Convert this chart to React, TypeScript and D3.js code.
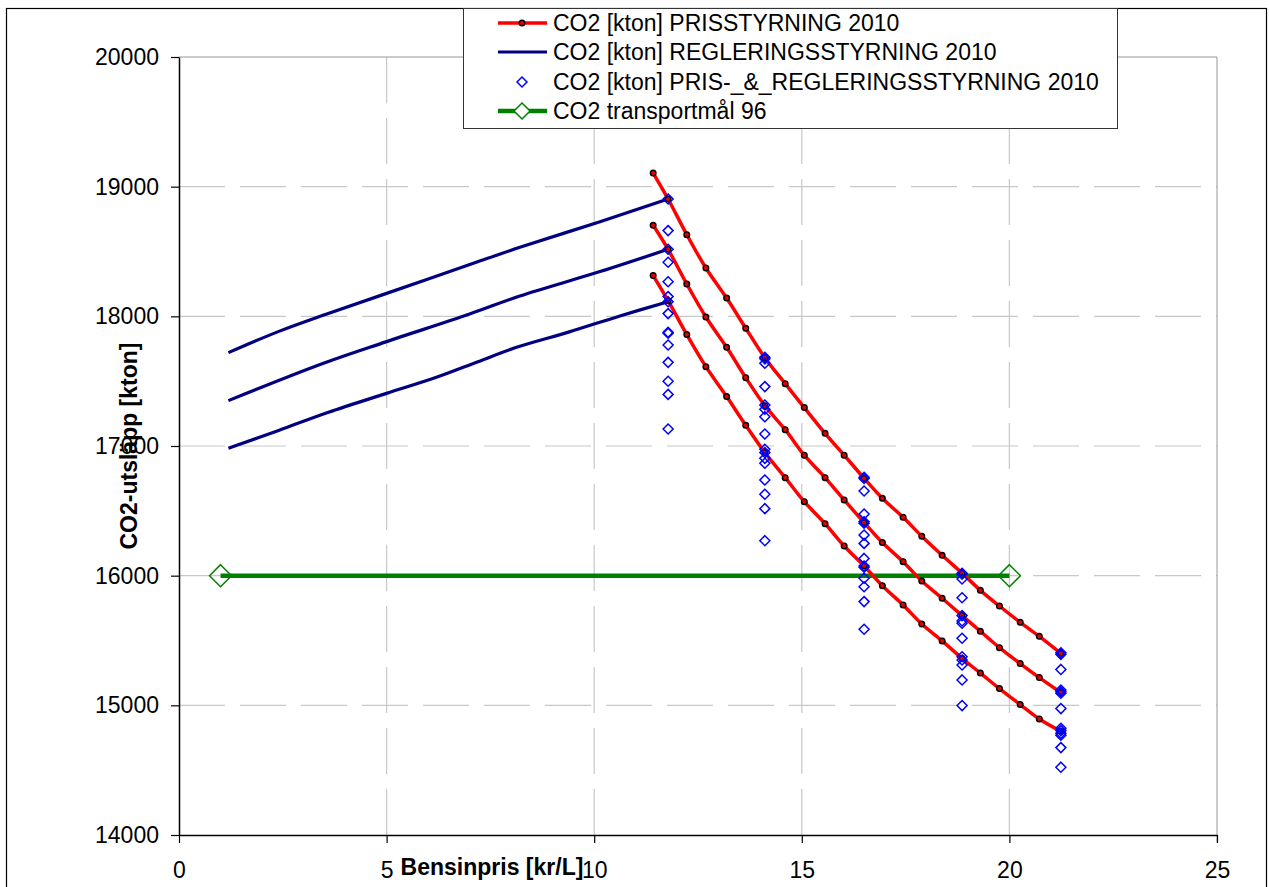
import * as d3 from 'd3'
import React, { useEffect, useRef } from 'react'

// values
const xTicks = [0, 5, 10, 15, 20, 25]
const yTicks = [14000, 15000, 16000, 17000, 18000, 19000, 20000]

// CO2 [kton] PRISSTYRNING 2010 (three curves)
const prisPrice = [11.42, 11.78, 12.23, 12.69, 13.19, 13.65, 14.11, 14.6, 15.06, 15.56, 16.02, 16.5, 16.94, 17.44, 17.89, 18.38, 18.86, 19.3, 19.76, 20.26, 20.72, 21.24]
const prisHigh = [19105, 18905, 18630, 18373, 18141, 17908, 17681, 17481, 17296, 17098, 16929, 16751, 16597, 16450, 16304, 16157, 16020, 15887, 15766, 15640, 15532, 15401]
const prisMid = [18702, 18517, 18249, 17995, 17761, 17527, 17311, 17126, 16929, 16756, 16584, 16410, 16255, 16108, 15959, 15826, 15692, 15571, 15445, 15322, 15214, 15099]
const prisLow = [18314, 18121, 17859, 17612, 17381, 17160, 16950, 16756, 16571, 16401, 16229, 16075, 15923, 15774, 15627, 15497, 15362, 15249, 15129, 15006, 14895, 14800]

// CO2 [kton] REGLERINGSSTYRNING 2010 (three curves)
const reglHighPrice = [1.19, 2.39, 3.56, 5.0, 7.09, 8.21, 10.14, 11.78]
const reglHigh = [17720, 17882, 18018, 18177, 18409, 18532, 18730, 18905]
const reglMidPrice = [1.19, 3.48, 5.0, 7.0, 8.21, 10.14, 11.78]
const reglMid = [17350, 17638, 17805, 18018, 18157, 18345, 18517]
const reglLowPrice = [1.19, 2.4, 3.6, 5.0, 6.2, 7.2, 8.13, 9.4, 10.62, 11.78]
const reglLow = [16982, 17120, 17260, 17406, 17530, 17650, 17761, 17880, 18003, 18113]

// CO2 [kton] PRIS-_&_REGLERINGSSTYRNING 2010 (scatter, one column per price)
const comboPrice = [11.78, 14.11, 16.5, 18.86, 21.24]
const comboValues = [
  [18905, 18661, 18517, 18417, 18267, 18152, 18113, 18021, 17877, 17870, 17779, 17645, 17499, 17398, 17131],
  [17684, 17672, 17638, 17458, 17316, 17283, 17226, 17093, 16975, 16949, 16905, 16867, 16738, 16628, 16517, 16270],
  [16759, 16750, 16653, 16475, 16416, 16405, 16313, 16249, 16133, 16075, 16065, 15980, 15915, 15800, 15587],
  [16018, 16012, 15974, 15830, 15692, 15651, 15633, 15517, 15375, 15350, 15311, 15196, 14998],
  [15406, 15393, 15277, 15118, 15105, 15093, 14975, 14823, 14805, 14784, 14769, 14674, 14523]
]

// CO2 transportmål 96
const targetPrice = [1, 20]
const target = [16000, 16000]

const legendLabels = [
  'CO2 [kton] PRISSTYRNING 2010',
  'CO2 [kton] REGLERINGSSTYRNING 2010',
  'CO2 [kton] PRIS-_&_REGLERINGSSTYRNING 2010',
  'CO2 transportmål 96'
]

const FONT = 'Liberation Sans, Arial, sans-serif'

function diamond (cx: number, cy: number, r: number) {
  return `M${cx},${cy - r}L${cx + r},${cy}L${cx},${cy + r}L${cx - r},${cy}Z`
}

function Chart () {
  const ref = useRef<SVGSVGElement>(null)

  useEffect(() => {
    const width = 1270; const height = 887
    const svg = d3.select(ref.current)
    svg.selectAll('*').remove()
    svg.attr('width', width).attr('height', height)

    const x = d3.scaleLinear().domain([0, 25]).range([179, 1217])
    const y = d3.scaleLinear().domain([14000, 20000]).range([835, 57])

    svg.append('rect').attr('width', width).attr('height', height).attr('fill', '#fff')
    svg.append('rect')
      .attr('x', 6.5).attr('y', 8.5).attr('width', 1260).attr('height', 900)
      .attr('fill', 'none').attr('stroke', '#000').attr('stroke-width', 1.2)

    // grid
    const grid = svg.append('g')
    grid.selectAll('line.v').data(xTicks.slice(1, -1)).enter().append('line')
      .attr('x1', d => x(d)).attr('x2', d => x(d))
      .attr('y1', y(20000)).attr('y2', y(14000))
      .attr('stroke', '#c8c8c8').attr('stroke-width', 1.2).attr('stroke-dasharray', '46,15')
    grid.selectAll('line.h').data(yTicks.slice(1, -1)).enter().append('line')
      .attr('y1', d => y(d)).attr('y2', d => y(d))
      .attr('x1', x(0)).attr('x2', x(25))
      .attr('stroke', '#c8c8c8').attr('stroke-width', 1.2).attr('stroke-dasharray', '46,15')
    grid.append('line').attr('x1', x(0)).attr('x2', x(25)).attr('y1', y(20000)).attr('y2', y(20000))
      .attr('stroke', '#999').attr('stroke-width', 1)
    grid.append('line').attr('x1', x(25)).attr('x2', x(25)).attr('y1', y(20000)).attr('y2', y(14000) + 8)
      .attr('stroke', '#999').attr('stroke-width', 1)

    // axes
    const yAxis = svg.append('g').attr('transform', `translate(${x(0)},0)`)
      .call(d3.axisLeft(y).tickValues(yTicks).tickSize(8).tickSizeOuter(0).tickPadding(12).tickFormat(d3.format('d')))
    const xAxis = svg.append('g').attr('transform', `translate(0,${y(14000)})`)
      .call(d3.axisBottom(x).tickValues(xTicks).tickSize(8).tickSizeOuter(0).tickPadding(19).tickFormat(d3.format('d')))
    ;[xAxis, yAxis].forEach(a => {
      a.selectAll('text').attr('font-family', FONT).attr('font-size', 23).attr('fill', '#000')
      a.selectAll('line').attr('stroke', '#000').attr('stroke-width', 1.2)
      a.select('.domain').attr('stroke', '#000').attr('stroke-width', 1.5)
    })

    svg.append('text')
      .attr('x', 492).attr('y', 875)
      .attr('text-anchor', 'middle').attr('font-family', FONT).attr('font-size', 23).attr('font-weight', 'bold')
      .text('Bensinpris [kr/L]')
    svg.append('text')
      .attr('transform', 'translate(137,446) rotate(-90)')
      .attr('text-anchor', 'middle').attr('font-family', FONT).attr('font-size', 23).attr('font-weight', 'bold')
      .text('CO2-utsläpp [kton]')

    const line = d3.line<[number, number]>()
      .x(d => x(d[0])).y(d => y(d[1]))
      .curve(d3.curveCatmullRom.alpha(0.5))

    // target line
    const targetPts = targetPrice.map((p, i) => [p, target[i]] as [number, number])
    svg.append('path').attr('d', line(targetPts))
      .attr('fill', 'none').attr('stroke', '#008000').attr('stroke-width', 4.5)
    svg.selectAll('path.tgt').data(targetPts).enter().append('path')
      .attr('d', d => diamond(x(d[0]), y(d[1]), 11))
      .attr('fill', 'none').attr('stroke', '#008000').attr('stroke-width', 1.5)

    // regulation lines
    const regl = [[reglHighPrice, reglHigh], [reglMidPrice, reglMid], [reglLowPrice, reglLow]]
    regl.forEach(([px, vals]) => {
      const pts = px.map((p, i) => [p, vals[i]] as [number, number])
      svg.append('path').attr('d', line(pts))
        .attr('fill', 'none').attr('stroke', '#000080').attr('stroke-width', 3.2)
    })

    // price lines
    const pris = [prisHigh, prisMid, prisLow]
    pris.forEach(vals => {
      const pts = prisPrice.map((p, i) => [p, vals[i]] as [number, number])
      svg.append('path').attr('d', line(pts))
        .attr('fill', 'none').attr('stroke', '#ff0000').attr('stroke-width', 3.5)
      svg.append('g').selectAll('circle').data(pts).enter().append('circle')
        .attr('cx', d => x(d[0])).attr('cy', d => y(d[1])).attr('r', 2.8)
        .attr('fill', '#e00000').attr('stroke', '#000').attr('stroke-width', 1.4)
    })

    // combined scatter
    const comboPts: [number, number][] = []
    comboPrice.forEach((p, i) => comboValues[i].forEach(v => comboPts.push([p, v])))
    svg.append('g').selectAll('path').data(comboPts).enter().append('path')
      .attr('d', d => diamond(x(d[0]), y(d[1]), 5))
      .attr('fill', 'none').attr('stroke', '#0000ff').attr('stroke-width', 1.5)

    // legend
    const lg = svg.append('g')
    lg.append('rect').attr('x', 463.5).attr('y', 8.5).attr('width', 654).attr('height', 120)
      .attr('fill', '#fff').attr('stroke', '#333').attr('stroke-width', 1)
    const rowY = [23, 52, 82, 111]
    legendLabels.forEach((label, i) => {
      const cy = rowY[i]
      if (i === 0) {
        lg.append('line').attr('x1', 498).attr('x2', 547).attr('y1', cy).attr('y2', cy)
          .attr('stroke', '#ff0000').attr('stroke-width', 3.5)
        lg.append('circle').attr('cx', 522).attr('cy', cy).attr('r', 2.8)
          .attr('fill', '#e00000').attr('stroke', '#000').attr('stroke-width', 1.4)
      } else if (i === 1) {
        lg.append('line').attr('x1', 498).attr('x2', 547).attr('y1', cy).attr('y2', cy)
          .attr('stroke', '#000080').attr('stroke-width', 3.2)
      } else if (i === 2) {
        lg.append('path').attr('d', diamond(522, cy, 5))
          .attr('fill', 'none').attr('stroke', '#0000ff').attr('stroke-width', 1.5)
      } else {
        lg.append('line').attr('x1', 498).attr('x2', 547).attr('y1', cy).attr('y2', cy)
          .attr('stroke', '#008000').attr('stroke-width', 4.5)
        lg.append('path').attr('d', diamond(522, cy, 8))
          .attr('fill', '#fff').attr('stroke', '#008000').attr('stroke-width', 1.5)
      }
      lg.append('text').attr('x', 553).attr('y', cy + 8)
        .attr('font-family', FONT).attr('font-size', 23).attr('fill', '#000')
        .text(label)
    })
  }, [])

  return <svg ref={ref} style={{ display: 'block' }} />
}

export default function App () {
  return (
    <div style={{ position: 'absolute', left: 0, top: 0, width: 1270, height: 887, overflow: 'hidden', background: '#fff' }}>
      <Chart />
    </div>
  )
}
